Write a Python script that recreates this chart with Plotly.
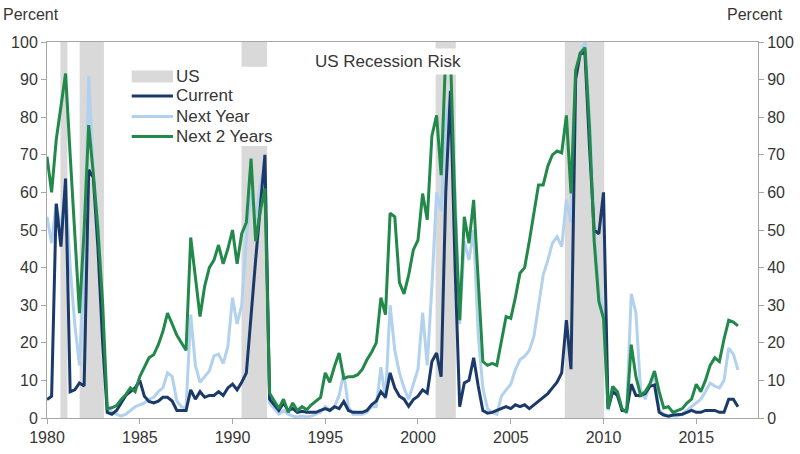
import pandas as pd
import plotly.graph_objects as go

# ---------------- data (quarterly, 1980Q1 .. 2017Q2) ----------------
quarters = pd.date_range("1980-01-01", periods=150, freq="QS")

current = [
    4.9, 5.8, 57, 45.6, 63.7, 7, 7.5, 9.3, 8.5, 66,
    64, 45, 20, 1.5, 1, 2, 4, 6, 7, 8,
    10, 5.8, 4.4, 4, 4.5, 5.5, 5.5, 4.5, 2, 2,
    2, 7.5, 5, 7, 5.5, 6, 6, 7, 6, 8,
    9, 7.5, 9.5, 12, 28, 42, 56, 70, 5, 3.5,
    2, 4, 2, 2.5, 1.5, 1.8, 1.5, 1.5, 1.5, 2,
    2.5, 2, 3, 2.5, 4.4, 2, 1.5, 1.5, 1.5, 2,
    3.5, 4.5, 7, 5.5, 12, 8, 5.8, 5, 3.1, 4.9,
    5.8, 7.5, 6.6, 15, 17.3, 11, 60, 87, 40, 3,
    9.3, 10, 16, 8.5, 2, 1.3, 1.5, 2, 2.5, 3,
    2.5, 3.5, 3, 3.5, 2.5, 3.5, 4.5, 5.5, 6.5, 8,
    9.5, 12, 26, 13, 90, 97, 97, 72, 50, 49,
    60, 2.5, 7, 6, 2, 2, 9, 6, 6, 6.5,
    8.4, 8.8, 1.5, 0.8, 0.5, 0.8, 1, 1, 1.5, 2,
    1.5, 1.5, 2, 2, 2, 1.5, 1.5, 5, 5, 3,
]

next_year = [
    53.5, 46.5, 57, 50, 62, 40, 25, 14, 40, 91,
    65, 52, 25, 3, 1.5, 1, 0.5, 1, 2, 3,
    3.5, 4, 5, 5.5, 7, 8, 12, 11, 4.5, 3,
    2.5, 27.5, 14, 9.5, 11, 12.5, 16.5, 17, 14.5, 19,
    32, 25, 30, 48, 60, 52, 62, 68, 4, 2.5,
    1, 2, 1, 0.5, 0.3, 0.5, 0.3, 0.5, 1, 1.5,
    3, 2, 3, 6, 12, 3, 1, 1, 1, 1.5,
    3, 3, 13.5, 5, 30, 18, 12, 8, 5, 9,
    13, 28, 14, 35, 60, 55, 80, 85, 60, 25,
    47, 42, 50, 22, 8, 2.5, 1.5, 1, 5.8, 7.5,
    9, 12.8, 15.5, 16.4, 18, 21.7, 30, 38, 42, 46.5,
    48.2, 45.6, 58, 52, 92, 97, 100, 80, 50, 34,
    28, 2, 7.5, 7, 2, 1.5, 33, 28, 7.5, 5,
    9, 11, 2, 1, 0.5, 0.5, 0.5, 1, 2, 3,
    4, 5, 7, 9.3, 8.5, 8, 10, 18.6, 17, 12.8,
]

next_2_years = [
    69.5, 60, 74, 82.7, 91.6, 70, 49, 27.9, 50, 77.9,
    65, 50, 30.5, 2.5, 2.7, 3.3, 4.9, 6.2, 8, 7,
    11, 13.7, 16, 16.8, 19.5, 23, 27.9, 25, 22, 20,
    18, 48, 37.5, 27, 35, 40, 42, 46, 41, 45,
    50, 41, 49, 52, 69, 47, 55, 61, 6.6, 4.5,
    2.5, 5, 1.5, 4, 2, 3, 2.2, 3.5, 4.5, 5.5,
    12, 9.5, 13.7, 17.3, 10.5, 11, 11, 11.5, 13, 15.5,
    17.5, 20, 32, 27.5, 54.5, 53.5, 36, 33, 38, 44.7,
    47.3, 59.7, 52.7, 75, 80.5, 64.6, 97, 97, 55, 26,
    53.5, 46.5, 58, 36, 15, 14, 14.5, 14, 20, 27,
    26.5, 32, 38.5, 40, 47, 55, 62, 62, 67, 70,
    71, 70.5, 80.5, 59.7, 92.5, 97, 98.5, 77, 47, 31,
    26.5, 2.5, 8.4, 7, 2.5, 1.5, 19.5, 11, 6, 7,
    9, 12.5, 7, 2.7, 3, 1.5, 2, 2.5, 4, 5,
    9, 7, 10, 14, 16, 15, 21, 26, 25.5, 24.5,
]

recession_start = ["1980-09-20", "1981-10-05", "1990-06-27", "2000-12-13", "2007-12-01"]
recession_end = ["1981-02-06", "1983-01-26", "1991-11-13", "2002-01-15", "2010-01-15"]

x_tick_years = [1980, 1985, 1990, 1995, 2000, 2005, 2010, 2015]
y_ticks = [0, 10, 20, 30, 40, 50, 60, 70, 80, 90, 100]

series_names = ["Current", "Next Year", "Next 2 Years"]

# ---------------- styling ----------------
W, H = 800, 454
ML, MR, MT, MB = 47, 42, 42, 36
PW, PH = W - ML - MR, H - MT - MB

NAVY = "#1b3a6a"
LIGHT = "#b2d1ee"
GREEN = "#23894b"
SHADE = "#d9d9d9"
AXIS = "#a6a6a6"
TXT = "#363636"
FONT = "Liberation Sans, Arial, sans-serif"


def px(X):
    return (X - ML) / PW


def py(Y):
    return (H - MB - Y) / PH


fig = go.Figure()

# draw order: Next Year, Current, Next 2 Years (green on top)
fig.add_trace(go.Scatter(x=quarters, y=next_year, mode="lines", name=series_names[1],
                         line=dict(color=LIGHT, width=3), showlegend=False))
fig.add_trace(go.Scatter(x=quarters, y=current, mode="lines", name=series_names[0],
                         line=dict(color=NAVY, width=3), showlegend=False))
fig.add_trace(go.Scatter(x=quarters, y=next_2_years, mode="lines", name=series_names[2],
                         line=dict(color=GREEN, width=3), showlegend=False))
# invisible trace for the right-hand axis
fig.add_trace(go.Scatter(x=[quarters[0]], y=[0], yaxis="y2", mode="markers",
                         marker=dict(opacity=0), showlegend=False, hoverinfo="skip"))

shapes = []
for s, e in zip(recession_start, recession_end):
    shapes.append(dict(type="rect", xref="x", yref="paper", x0=s, x1=e, y0=0, y1=1,
                       fillcolor=SHADE, line=dict(width=0), layer="below"))

# legend background box (white) covering shading
shapes.append(dict(type="rect", xref="paper", yref="paper",
                   x0=px(125), x1=px(277), y0=py(146), y1=py(66.7),
                   fillcolor="white", line=dict(width=0), layer="above"))

# legend symbols
leg_rows = [76.5, 96, 116.5, 136.5]
sx0, sx1 = px(131.7), px(173)
shapes.append(dict(type="rect", xref="paper", yref="paper", x0=sx0, x1=sx1,
                   y0=py(leg_rows[0] + 6), y1=py(leg_rows[0] - 6),
                   fillcolor=SHADE, line=dict(width=0), layer="above"))
for row, col in zip(leg_rows[1:], [NAVY, LIGHT, GREEN]):
    shapes.append(dict(type="line", xref="paper", yref="paper", x0=sx0, x1=sx1,
                       y0=py(row), y1=py(row), line=dict(color=col, width=3), layer="above"))

annotations = []
for row, label in zip(leg_rows, ["US"] + series_names):
    annotations.append(dict(text=label, xref="paper", yref="paper", x=px(174), y=py(row),
                            xanchor="left", yanchor="middle", showarrow=False,
                            font=dict(family=FONT, size=17, color=TXT)))

annotations.append(dict(text="US Recession Risk", xref="paper", yref="paper",
                        x=px(387.5), y=py(61.5), xanchor="center", yanchor="middle",
                        showarrow=False, bgcolor="white", borderpad=3,
                        font=dict(family=FONT, size=17, color=TXT)))
annotations.append(dict(text="Percent", xref="paper", yref="paper", x=px(31), y=py(15),
                        xanchor="center", yanchor="middle", showarrow=False,
                        font=dict(family=FONT, size=16, color=TXT)))
annotations.append(dict(text="Percent", xref="paper", yref="paper", x=px(755), y=py(15),
                        xanchor="center", yanchor="middle", showarrow=False,
                        font=dict(family=FONT, size=16, color=TXT)))

tickfont = dict(family=FONT, size=16, color=TXT)

fig.update_layout(
    width=W, height=H,
    margin=dict(l=ML, r=MR, t=MT, b=MB, pad=0, autoexpand=False),
    paper_bgcolor="white", plot_bgcolor="white",
    showlegend=False,
    shapes=shapes,
    annotations=annotations,
    xaxis=dict(type="date", range=["1980-01-01", "2018-05-01"], automargin=False,
               tickvals=[f"{y}-01-01" for y in x_tick_years],
               ticktext=[str(y) for y in x_tick_years],
               ticks="outside", ticklen=5, tickcolor=AXIS,
               showline=True, linecolor=AXIS, linewidth=1, mirror=True,
               showgrid=False, zeroline=False, tickfont=tickfont),
    yaxis=dict(range=[0, 100], tickvals=y_ticks, ticks="outside", ticklen=5,
               automargin=False,
               tickcolor=AXIS, showline=True, linecolor=AXIS, linewidth=1,
               showgrid=False, zeroline=False, tickfont=tickfont),
    yaxis2=dict(range=[0, 100], tickvals=y_ticks, overlaying="y", side="right",
                automargin=False,
                ticks="outside", ticklen=5, tickcolor=AXIS, showline=True,
                linecolor=AXIS, linewidth=1, showgrid=False, zeroline=False,
                tickfont=tickfont),
)

fig.write_html("out.html", config={"displayModeBar": False},
               post_script="document.body.style.margin='0';")
